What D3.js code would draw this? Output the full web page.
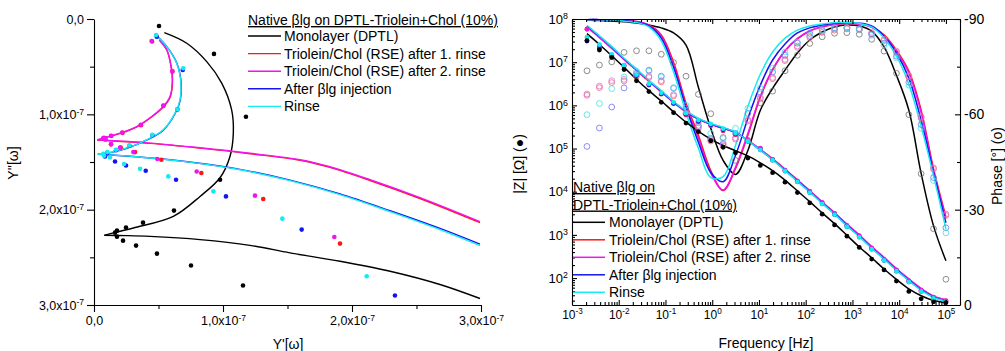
<!DOCTYPE html>
<html>
<head>
<meta charset="utf-8">
<script src="https://cdn.jsdelivr.net/npm/d3@7/dist/d3.min.js"></script>
<style>
  html, body { margin: 0; padding: 0; background: #ffffff; }
  svg { display: block; font-family: "Liberation Sans", Arial, sans-serif; }
</style>
</head>
<body>
<svg id="chart" width="1005" height="351"></svg>
<script>
// ---------- Series names ----------
const seriesNames = ["Monolayer (DPTL)", "Triolein/Chol (RSE) after 1. rinse", "Triolein/Chol (RSE) after 2. rinse", "After \u03B2lg injection", "Rinse"];
const legendTitle = "Native \u03B2lg on DPTL-Triolein+Chol (10%)";
const legendTitleLines = ["Native \u03B2lg on", "DPTL-Triolein+Chol (10%)"];

// ---------- Admittance plane: measured points [Y', Y''] ----------
const admMonolayer = [[0.504e-7,0.073e-7],[0.930e-7,0.366e-7],[1.178e-7,1.026e-7],[0.977e-7,1.686e-7],[0.620e-7,2.010e-7],[0.380e-7,2.136e-7],[0.248e-7,2.188e-7],[0.178e-7,2.220e-7],[0.163e-7,2.241e-7],[0.178e-7,2.283e-7],[0.225e-7,2.325e-7],[0.326e-7,2.377e-7],[0.488e-7,2.461e-7],[0.752e-7,2.586e-7],[1.155e-7,2.796e-7]];
const admRinse1 = [[0.450e-7,0.235e-7],[0.608e-7,0.550e-7],[0.539e-7,0.911e-7],[0.364e-7,1.115e-7],[0.221e-7,1.194e-7],[0.134e-7,1.228e-7],[0.085e-7,1.251e-7],[0.132e-7,1.315e-7],[0.207e-7,1.348e-7],[0.318e-7,1.396e-7],[0.522e-7,1.476e-7],[0.832e-7,1.616e-7],[1.312e-7,1.888e-7],[1.907e-7,2.356e-7]];
const admRinse2 = [[0.447e-7,0.230e-7],[0.607e-7,0.545e-7],[0.537e-7,0.908e-7],[0.362e-7,1.110e-7],[0.219e-7,1.191e-7],[0.132e-7,1.225e-7],[0.085e-7,1.249e-7],[0.075e-7,1.245e-7],[0.070e-7,1.255e-7],[0.080e-7,1.260e-7],[0.090e-7,1.265e-7],[0.132e-7,1.312e-7],[0.202e-7,1.348e-7],[0.305e-7,1.396e-7],[0.491e-7,1.469e-7],[0.796e-7,1.599e-7],[1.248e-7,1.853e-7],[1.863e-7,2.286e-7]];
const admInjection = [[0.486e-7,0.185e-7],[0.688e-7,0.534e-7],[0.647e-7,0.948e-7],[0.453e-7,1.220e-7],[0.275e-7,1.330e-7],[0.171e-7,1.377e-7],[0.100e-7,1.410e-7],[0.085e-7,1.442e-7],[0.163e-7,1.494e-7],[0.248e-7,1.536e-7],[0.401e-7,1.592e-7],[0.636e-7,1.686e-7],[1.023e-7,1.861e-7],[1.610e-7,2.209e-7],[2.333e-7,2.901e-7]];
const admRinse = [[0.481e-7,0.168e-7],[0.692e-7,0.516e-7],[0.646e-7,0.946e-7],[0.452e-7,1.215e-7],[0.274e-7,1.327e-7],[0.171e-7,1.372e-7],[0.103e-7,1.396e-7],[0.072e-7,1.414e-7],[0.078e-7,1.435e-7],[0.124e-7,1.452e-7],[0.233e-7,1.521e-7],[0.357e-7,1.571e-7],[0.576e-7,1.651e-7],[0.925e-7,1.808e-7],[1.460e-7,2.094e-7],[2.114e-7,2.698e-7]];

// ---------- Admittance plane: fitted curves (low-frequency arc, high-frequency branch) ----------
const admFitMonolayerArc = [[0.545e-7,0.143e-7],[0.719e-7,0.254e-7],[0.874e-7,0.447e-7],[0.990e-7,0.673e-7],[1.067e-7,0.953e-7],[1.080e-7,1.197e-7],[1.054e-7,1.442e-7],[0.977e-7,1.665e-7],[0.822e-7,1.861e-7],[0.615e-7,2.070e-7],[0.305e-7,2.192e-7],[0.150e-7,2.244e-7],[0.080e-7,2.269e-7]];
const admFitMonolayerTail = [[0.080e-7,2.269e-7],[0.250e-7,2.272e-7],[0.434e-7,2.280e-7],[0.822e-7,2.314e-7],[1.209e-7,2.374e-7],[1.519e-7,2.453e-7],[1.907e-7,2.541e-7],[2.295e-7,2.646e-7],[2.682e-7,2.785e-7],[2.992e-7,2.932e-7]];
const admFitRinse1Arc = [[0.508e-7,0.222e-7],[0.566e-7,0.328e-7],[0.599e-7,0.502e-7],[0.609e-7,0.642e-7],[0.591e-7,0.817e-7],[0.539e-7,0.921e-7],[0.449e-7,1.026e-7],[0.333e-7,1.131e-7],[0.204e-7,1.200e-7],[0.099e-7,1.242e-7],[0.026e-7,1.270e-7]];
const admFitRinse1Tail = [[0.026e-7,1.270e-7],[0.434e-7,1.305e-7],[0.822e-7,1.355e-7],[1.209e-7,1.413e-7],[1.597e-7,1.482e-7],[1.829e-7,1.557e-7],[2.140e-7,1.694e-7],[2.527e-7,1.883e-7],[2.992e-7,2.136e-7]];
const admFitRinse2Arc = [[0.506e-7,0.220e-7],[0.564e-7,0.325e-7],[0.597e-7,0.499e-7],[0.607e-7,0.639e-7],[0.589e-7,0.814e-7],[0.537e-7,0.918e-7],[0.447e-7,1.023e-7],[0.331e-7,1.128e-7],[0.202e-7,1.197e-7],[0.098e-7,1.239e-7],[0.026e-7,1.267e-7]];
const admFitRinse2Tail = [[0.026e-7,1.267e-7],[0.434e-7,1.302e-7],[0.822e-7,1.351e-7],[1.209e-7,1.408e-7],[1.597e-7,1.476e-7],[1.829e-7,1.550e-7],[2.140e-7,1.686e-7],[2.527e-7,1.874e-7],[2.992e-7,2.126e-7]];
const admFitInjectionArc = [[0.483e-7,0.170e-7],[0.566e-7,0.292e-7],[0.643e-7,0.466e-7],[0.676e-7,0.675e-7],[0.669e-7,0.850e-7],[0.630e-7,0.989e-7],[0.539e-7,1.164e-7],[0.411e-7,1.269e-7],[0.255e-7,1.356e-7],[0.126e-7,1.402e-7],[0.030e-7,1.419e-7]];
const admFitInjectionTail = [[0.030e-7,1.419e-7],[0.305e-7,1.442e-7],[0.692e-7,1.492e-7],[1.132e-7,1.577e-7],[1.519e-7,1.690e-7],[1.907e-7,1.835e-7],[2.295e-7,2.011e-7],[2.682e-7,2.197e-7],[2.992e-7,2.362e-7]];
const admFitRinseArc = [[0.481e-7,0.168e-7],[0.564e-7,0.290e-7],[0.641e-7,0.464e-7],[0.674e-7,0.673e-7],[0.667e-7,0.848e-7],[0.628e-7,0.987e-7],[0.537e-7,1.162e-7],[0.409e-7,1.267e-7],[0.253e-7,1.354e-7],[0.124e-7,1.400e-7],[0.029e-7,1.417e-7]];
const admFitRinseTail = [[0.029e-7,1.417e-7],[0.305e-7,1.442e-7],[0.692e-7,1.494e-7],[1.132e-7,1.581e-7],[1.519e-7,1.696e-7],[1.907e-7,1.843e-7],[2.295e-7,2.021e-7],[2.682e-7,2.209e-7],[2.992e-7,2.377e-7]];

const admTicksMajor = [0, 1e-7, 2e-7, 3e-7];
const admTicksMinor = [0.5e-7, 1.5e-7, 2.5e-7];

// ---------- Bode plot ----------
const freqHz = [0.00209, 0.00386, 0.00708, 0.0130, 0.0240, 0.0442, 0.0813, 0.149, 0.275, 0.506, 0.931, 1.71, 3.15, 5.79, 10.7, 19.6, 36.1, 66.4, 122, 225, 414, 762, 1400, 2580, 4740, 8730, 16100, 29500, 54300, 100000];

// log10(|Z| / Ω), measured
const logZMonolayer = [7.50,7.28,7.11,6.83,6.57,6.32,6.07,5.83,5.59,5.39,5.18,5.03,4.90,4.78,4.61,4.44,4.22,3.98,3.74,3.48,3.23,2.97,2.71,2.44,2.19,1.93,1.69,1.52,1.45,1.43];
const logZRinse1    = [7.77,7.37,7.16,6.92,6.69,6.47,6.26,6.04,5.78,5.62,5.53,5.41,5.32,5.18,5.00,4.74,4.49,4.24,4.00,3.74,3.49,3.21,2.97,2.69,2.42,2.18,1.93,1.71,1.55,1.47];
const logZRinse2    = [7.76,7.38,7.17,6.93,6.70,6.48,6.27,6.05,5.79,5.63,5.54,5.42,5.33,5.19,5.01,4.75,4.50,4.25,4.01,3.75,3.50,3.22,2.98,2.70,2.43,2.19,1.94,1.72,1.56,1.48];
const logZInjection = [7.49,7.32,7.13,6.91,6.69,6.48,6.27,6.05,5.80,5.64,5.55,5.44,5.35,5.17,4.97,4.73,4.48,4.23,3.98,3.72,3.47,3.19,2.95,2.67,2.41,2.16,1.91,1.69,1.53,1.45];
const logZRinse     = [7.58,7.41,7.18,6.93,6.71,6.50,6.29,6.07,5.82,5.66,5.57,5.46,5.36,5.17,4.97,4.73,4.48,4.23,3.98,3.72,3.47,3.19,2.95,2.67,2.41,2.16,1.91,1.69,1.53,1.45];

// log10(|Z| / Ω), fitted
const logZFitMonolayer = [7.66,7.41,7.15,6.88,6.60,6.34,6.10,5.85,5.61,5.40,5.22,5.07,4.95,4.83,4.67,4.49,4.27,4.02,3.77,3.51,3.26,2.99,2.72,2.47,2.21,1.97,1.75,1.59,1.48,1.43];
const logZFitRinse1    = [7.82,7.58,7.33,7.07,6.81,6.56,6.31,6.07,5.85,5.68,5.56,5.47,5.37,5.19,4.98,4.76,4.52,4.27,4.02,3.76,3.51,3.24,2.99,2.72,2.47,2.21,1.97,1.75,1.58,1.49];
const logZFitRinse2    = [7.81,7.57,7.32,7.06,6.81,6.56,6.31,6.07,5.85,5.68,5.56,5.47,5.37,5.19,4.98,4.76,4.52,4.27,4.02,3.76,3.51,3.25,3.00,2.73,2.48,2.22,1.98,1.76,1.58,1.49];
const logZFitInjection = [7.84,7.60,7.35,7.08,6.83,6.57,6.33,6.08,5.86,5.69,5.57,5.48,5.38,5.18,4.96,4.74,4.50,4.25,4.00,3.74,3.49,3.22,2.97,2.70,2.45,2.19,1.95,1.73,1.56,1.47];
const logZFitRinse     = [7.85,7.61,7.36,7.09,6.84,6.58,6.34,6.09,5.87,5.70,5.58,5.49,5.38,5.18,4.96,4.74,4.49,4.24,3.99,3.73,3.48,3.21,2.96,2.69,2.44,2.18,1.94,1.72,1.55,1.46];

// phase in degrees, measured
const phaseMonolayer = [-73.7,-75.5,-76.5,-79.5,-80.0,-80.0,-78.9,-76.3,-72.0,-66.3,-60.2,-52.7,-45.5,-51.8,-63.6,-67.3,-73.7,-78.6,-82.3,-84.4,-85.5,-85.7,-85.2,-83.6,-79.9,-72.9,-59.9,-41.3,-24.0,-8.1];
const phaseRinse1    = [-66.0,-68.4,-70.0,-70.5,-72.0,-71.6,-70.2,-65.8,-60.1,-55.7,-51.6,-50.0,-52.2,-57.9,-64.9,-71.2,-76.9,-81.1,-84.2,-85.8,-86.5,-86.9,-86.6,-85.4,-83.2,-79.5,-71.8,-58.9,-42.8,-28.2];
const phaseRinse2    = [-66.4,-68.9,-70.6,-71.0,-72.5,-72.0,-70.6,-66.2,-60.5,-56.1,-52.0,-50.4,-52.6,-58.3,-65.3,-71.6,-77.3,-81.5,-84.6,-86.2,-86.9,-87.3,-87.0,-85.8,-83.6,-79.9,-72.2,-59.3,-43.2,-28.6];
const phaseInjection = [-49.9,-55.7,-62.3,-68.3,-72.9,-73.9,-72.0,-68.2,-61.9,-56.5,-52.4,-50.8,-54.0,-60.3,-66.9,-73.3,-78.6,-82.4,-85.5,-86.7,-87.2,-87.2,-86.8,-85.2,-82.4,-78.3,-70.1,-56.8,-40.1,-24.3];
const phaseRinse     = [-59.9,-63.4,-68.1,-71.8,-73.6,-73.6,-71.8,-68.4,-62.8,-57.5,-54.0,-52.4,-55.6,-61.9,-68.2,-74.5,-79.6,-82.7,-84.9,-86.5,-87.2,-87.2,-86.7,-84.9,-81.8,-77.7,-69.2,-55.6,-39.2,-22.7];

// phase in degrees, fitted
const phaseFitMonolayer = [-89.7,-89.5,-89.4,-89.1,-88.7,-88.1,-87.2,-85.6,-81.8,-68.5,-55.6,-45.5,-41.1,-48.6,-61.3,-68.2,-73.9,-79.3,-83.4,-85.9,-87.5,-88.1,-87.8,-86.2,-81.2,-72.3,-61.3,-41.4,-24.9,-13.9];
const phaseFitRinse1    = [-89.8,-89.8,-89.7,-89.5,-89.2,-88.1,-85.0,-76.4,-63.5,-53.4,-42.3,-36.0,-42.9,-53.4,-65.4,-73.9,-79.9,-83.7,-86.2,-87.5,-88.3,-88.6,-88.4,-87.5,-85.0,-80.2,-73.6,-61.3,-42.9,-27.8];
const phaseFitRinse2    = [-89.8,-89.8,-89.7,-89.5,-89.2,-88.0,-84.5,-75.5,-62.5,-52.5,-41.5,-36.2,-43.4,-54.0,-65.8,-74.2,-80.1,-83.9,-86.3,-87.6,-88.3,-88.6,-88.4,-87.4,-84.8,-79.8,-73.0,-60.5,-42.2,-27.2];
const phaseFitInjection = [-89.8,-89.8,-89.7,-89.5,-89.0,-87.8,-84.0,-74.8,-62.2,-51.2,-41.7,-38.8,-47.1,-58.7,-69.2,-77.1,-82.1,-85.6,-87.2,-88.1,-88.7,-88.9,-88.7,-87.8,-84.6,-79.3,-71.4,-58.1,-41.7,-25.9];
const phaseFitRinse     = [-89.8,-89.8,-89.7,-89.3,-88.9,-87.5,-83.1,-73.3,-60.6,-49.3,-40.1,-40.4,-50.2,-62.5,-72.6,-79.6,-84.0,-86.5,-87.8,-88.4,-88.9,-88.9,-88.6,-87.5,-84.0,-78.3,-69.5,-56.2,-40.7,-23.9];

const phaseTicksMajor = [-90, -60, -30, 0];
const phaseTicksMinor = [-75, -45, -15];

// ---------- Styles ----------
const seriesStyle = [
  { line: "#000000", dot: "#000000", ring: "#707070" },
  { line: "#ff1515", dot: "#ff1515", ring: "#f06a6a" },
  { line: "#f015f0", dot: "#f015f0", ring: "#e070e0" },
  { line: "#1515f0", dot: "#1515f0", ring: "#7070f0" },
  { line: "#15eaf0", dot: "#15eaf0", ring: "#45dde3" }
];

const admSeries = [
  { pts: admMonolayer, arc: admFitMonolayerArc, tail: admFitMonolayerTail },
  { pts: admRinse1, arc: admFitRinse1Arc, tail: admFitRinse1Tail },
  { pts: admRinse2, arc: admFitRinse2Arc, tail: admFitRinse2Tail },
  { pts: admInjection, arc: admFitInjectionArc, tail: admFitInjectionTail },
  { pts: admRinse, arc: admFitRinseArc, tail: admFitRinseTail }
];
const bodeSeries = [
  { z: logZMonolayer, zFit: logZFitMonolayer, ph: phaseMonolayer, phFit: phaseFitMonolayer },
  { z: logZRinse1, zFit: logZFitRinse1, ph: phaseRinse1, phFit: phaseFitRinse1 },
  { z: logZRinse2, zFit: logZFitRinse2, ph: phaseRinse2, phFit: phaseFitRinse2 },
  { z: logZInjection, zFit: logZFitInjection, ph: phaseInjection, phFit: phaseFitInjection },
  { z: logZRinse, zFit: logZFitRinse, ph: phaseRinse, phFit: phaseFitRinse }
];

const svg = d3.select("#chart");
svg.append("rect").attr("width", 1005).attr("height", 351).attr("fill", "#ffffff");

function styleAxis(g, size) {
  g.attr("font-family", null).attr("font-size", size);
  g.selectAll("path, line").attr("stroke", "#000").attr("stroke-width", 1.1);
  g.selectAll("text").attr("fill", "#000");
}
function supText(text, base, exp) {
  text.text(null);
  text.append("tspan").text(base);
  text.append("tspan").attr("dy", "-0.5em").attr("font-size", "0.68em").text(exp);
}

// ================= Left panel: admittance plane =================
const xA = d3.scaleLinear().domain([0, 3e-7]).range([94, 481]);
const yA = d3.scaleLinear().domain([0, 3e-7]).range([19, 305]);
const gA = svg.append("g");

const admLine = d3.line().x(d => xA(d[0])).y(d => yA(d[1])).curve(d3.curveCatmullRom.alpha(0.5));
admSeries.forEach((s, i) => {
  [s.arc, s.tail].forEach(seg => {
    gA.append("path").attr("d", admLine(seg)).attr("fill", "none")
      .attr("stroke", seriesStyle[i].line).attr("stroke-width", 1.4);
  });
});
admSeries.forEach((s, i) => {
  gA.append("g").selectAll("circle").data(s.pts).join("circle")
    .attr("cx", d => xA(d[0])).attr("cy", d => yA(d[1])).attr("r", 2.3)
    .attr("fill", seriesStyle[i].dot);
});

function admLabel(sel) {
  sel.selectAll(".tick text").each(function(d) {
    const t = d3.select(this);
    if (d === 0) { t.text("0,0"); return; }
    supText(t, (d / 1e-7).toFixed(1).replace(".", ",") + "x10", "-7");
  });
}
// y axis (downwards)
gA.append("g").attr("transform", "translate(94,0)")
  .call(d3.axisLeft(yA).tickValues(admTicksMinor).tickSize(4).tickFormat(""))
  .call(g => g.select(".domain").remove()).call(g => styleAxis(g, 12.5));
gA.append("g").attr("transform", "translate(94,0)")
  .call(d3.axisLeft(yA).tickValues(admTicksMajor).tickSize(7).tickSizeOuter(0).tickPadding(3))
  .call(g => styleAxis(g, 12.5)).call(admLabel);
// x axis
gA.append("g").attr("transform", "translate(0,305)")
  .call(d3.axisBottom(xA).tickValues(admTicksMinor).tickSize(4).tickFormat(""))
  .call(g => g.select(".domain").remove()).call(g => styleAxis(g, 12.5));
gA.append("g").attr("transform", "translate(0,305)")
  .call(d3.axisBottom(xA).tickValues(admTicksMajor).tickSize(7).tickSizeOuter(0).tickPadding(4))
  .call(g => styleAxis(g, 12.5)).call(admLabel);

gA.append("text").attr("transform", "translate(18,163) rotate(-90)")
  .attr("text-anchor", "middle").attr("font-size", 14).text("Y''[\u03C9]");
gA.append("text").attr("x", 288).attr("y", 349)
  .attr("text-anchor", "middle").attr("font-size", 14).text("Y'[\u03C9]");

// legend
const legA = gA.append("g");
legA.append("text").attr("x", 248).attr("y", 25).attr("font-size", 14)
  .attr("text-decoration", "underline").text(legendTitle);
seriesNames.forEach((name, i) => {
  const y = 36 + i * 17.6;
  legA.append("line").attr("x1", 248).attr("x2", 281).attr("y1", y).attr("y2", y)
    .attr("stroke", seriesStyle[i].line).attr("stroke-width", 1.4);
  legA.append("text").attr("x", 284).attr("y", y).attr("dy", "0.36em")
    .attr("font-size", 14).text(name);
});

// ================= Right panel: Bode plot =================
const xF = d3.scaleLog().domain([1e-3, 2e5]).range([572, 960]);
const yZ = d3.scaleLog().domain([23.8, 1e8]).range([305, 19]);
const yP = d3.scaleLinear().domain([0, -90]).range([305, 19]);
const gB = svg.append("g");

const zLine = d3.line().x(d => xF(d[0])).y(d => yZ(Math.pow(10, d[1]))).curve(d3.curveCatmullRom.alpha(0.5));
const pLine = d3.line().x(d => xF(d[0])).y(d => yP(d[1])).curve(d3.curveCatmullRom.alpha(0.5));

// fitted curves
bodeSeries.forEach((s, i) => {
  gB.append("path").attr("d", pLine(d3.zip(freqHz, s.phFit))).attr("fill", "none")
    .attr("stroke", seriesStyle[i].line).attr("stroke-width", 1.5);
});
bodeSeries.forEach((s, i) => {
  gB.append("path").attr("d", zLine(d3.zip(freqHz, s.zFit))).attr("fill", "none")
    .attr("stroke", seriesStyle[i].line).attr("stroke-width", 1.5);
});
// phase (open circles)
bodeSeries.forEach((s, i) => {
  gB.append("g").selectAll("circle").data(d3.zip(freqHz, s.ph)).join("circle")
    .attr("cx", d => xF(d[0])).attr("cy", d => yP(d[1])).attr("r", 2.9)
    .attr("fill", "none").attr("stroke", seriesStyle[i].ring).attr("stroke-width", 0.8);
});
// |Z| (filled dots), monolayer drawn last
[1, 2, 3, 4, 0].forEach(i => {
  const s = bodeSeries[i];
  gB.append("g").selectAll("circle").data(d3.zip(freqHz, s.z)).join("circle")
    .attr("cx", d => xF(d[0])).attr("cy", d => yZ(Math.pow(10, d[1]))).attr("r", 2.4)
    .attr("fill", seriesStyle[i].dot);
});

// frame + ticks
const freqTicks = xF.ticks();
const freqMajor = freqTicks.filter(d => Math.abs(Math.log10(d) - Math.round(Math.log10(d))) < 1e-6);
const freqMinor = freqTicks.filter(d => !freqMajor.includes(d));
const zTicks = yZ.ticks();
const zMajor = zTicks.filter(d => Math.abs(Math.log10(d) - Math.round(Math.log10(d))) < 1e-6);
const zMinor = zTicks.filter(d => !zMajor.includes(d));

function powLabel(sel) {
  sel.selectAll(".tick text").each(function(d) {
    supText(d3.select(this), "10", String(Math.round(Math.log10(d))));
  });
}
// bottom
gB.append("g").attr("transform", "translate(0,305)")
  .call(d3.axisBottom(xF).tickValues(freqMinor).tickSizeInner(-3).tickSizeOuter(0).tickFormat(""))
  .call(g => g.select(".domain").remove()).call(g => styleAxis(g, 12));
gB.append("g").attr("transform", "translate(0,305)")
  .call(d3.axisBottom(xF).tickValues(freqMajor).tickSizeInner(-5).tickSizeOuter(0).tickPadding(5))
  .call(g => styleAxis(g, 12)).call(powLabel);
// top
gB.append("g").attr("transform", "translate(0,19)")
  .call(d3.axisTop(xF).tickValues(freqMinor).tickSizeInner(-3).tickSizeOuter(0).tickFormat(""))
  .call(g => g.select(".domain").remove()).call(g => styleAxis(g, 12));
gB.append("g").attr("transform", "translate(0,19)")
  .call(d3.axisTop(xF).tickValues(freqMajor).tickSizeInner(-5).tickSizeOuter(0).tickFormat(""))
  .call(g => styleAxis(g, 12));
// left |Z|
gB.append("g").attr("transform", "translate(572,0)")
  .call(d3.axisLeft(yZ).tickValues(zMinor).tickSizeInner(-3).tickSizeOuter(0).tickFormat(""))
  .call(g => g.select(".domain").remove()).call(g => styleAxis(g, 13));
gB.append("g").attr("transform", "translate(572,0)")
  .call(d3.axisLeft(yZ).tickValues(zMajor).tickSizeInner(-5).tickSizeOuter(0).tickPadding(4))
  .call(g => styleAxis(g, 13)).call(powLabel);
// right phase
gB.append("g").attr("transform", "translate(960,0)")
  .call(d3.axisRight(yP).tickValues(phaseTicksMinor).tickSizeInner(-3).tickSizeOuter(0).tickFormat(""))
  .call(g => g.select(".domain").remove()).call(g => styleAxis(g, 14));
gB.append("g").attr("transform", "translate(960,0)")
  .call(d3.axisRight(yP).tickValues(phaseTicksMajor).tickSizeInner(-5).tickSizeOuter(0).tickPadding(4)
    .tickFormat(d => String(d)))
  .call(g => styleAxis(g, 14));

gB.append("text").attr("transform", "translate(524,164) rotate(-90)")
  .attr("text-anchor", "middle").attr("font-size", 14).text("|Z| [\u03A9] (\u25CF)");
gB.append("text").attr("transform", "translate(1002,166) rotate(-90)")
  .attr("text-anchor", "middle").attr("font-size", 14).text("Phase [\u00B0] (o)");
gB.append("text").attr("x", 766).attr("y", 348)
  .attr("text-anchor", "middle").attr("font-size", 14).text("Frequency [Hz]");

// legend
const legB = gB.append("g");
legendTitleLines.forEach((t, k) => {
  legB.append("text").attr("x", 573).attr("y", 192 + k * 17.5).attr("font-size", 14)
    .attr("text-decoration", "underline").text(t);
});
seriesNames.forEach((name, i) => {
  const y = 222.3 + i * 17.5;
  legB.append("line").attr("x1", 573).attr("x2", 605).attr("y1", y).attr("y2", y)
    .attr("stroke", seriesStyle[i].line).attr("stroke-width", 1.5);
  legB.append("text").attr("x", 609).attr("y", y).attr("dy", "0.36em")
    .attr("font-size", 14).text(name);
});
</script>
</body>
</html>
